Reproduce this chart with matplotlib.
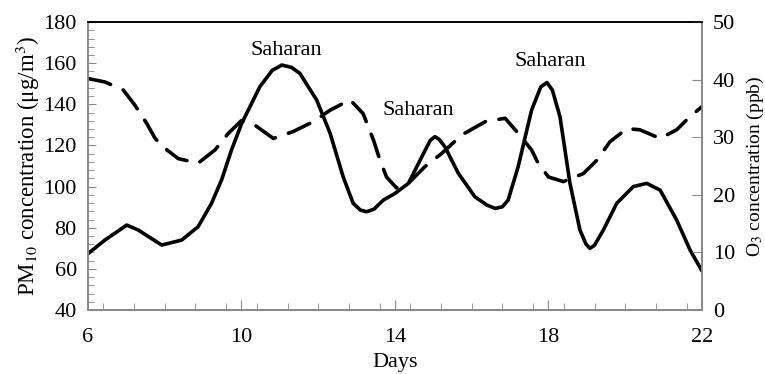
import matplotlib
matplotlib.use('Agg')
import matplotlib.pyplot as plt
from matplotlib.ticker import MultipleLocator

plt.rcParams['font.family'] = ['Liberation Serif', 'DejaVu Serif']
plt.rcParams['mathtext.fontset'] = 'stix'
plt.rcParams['font.size'] = 16

# PM10 (left axis)
pm_days = [6.0, 6.44, 7.01, 7.31, 7.92, 8.44, 8.87, 9.22, 9.48, 9.74, 10.0,
           10.48, 10.8, 11.05, 11.3, 11.52, 11.96, 12.31, 12.65, 12.91, 13.1,
           13.26, 13.45, 13.7, 14.0, 14.35, 14.7, 14.92, 15.04, 15.15, 15.3,
           15.65, 16.08, 16.4, 16.61, 16.8, 16.95, 17.21, 17.56, 17.8, 17.96,
           18.1, 18.3, 18.56, 18.82, 18.98, 19.08, 19.2, 19.43, 19.78, 20.21,
           20.56, 20.91, 21.34, 21.69, 22.0]
pm_vals = [67.4, 74.0, 81.3, 78.9, 71.6, 74.0, 80.5, 91.9, 103.2, 117.8, 130.5,
           148.6, 156.5, 159.1, 158.0, 155.1, 142.1, 125.9, 104.8, 91.9, 88.6,
           87.8, 89.0, 93.5, 96.7, 101.6, 114.5, 122.5, 124.3, 123.0, 119.4,
           106.5, 95.1, 91.0, 89.4, 90.2, 93.5, 109.7, 137.2, 148.5, 150.6,
           147.0, 134.0, 101.6, 78.9, 72.0, 70.0, 71.5, 78.9, 91.9, 100.0,
           101.6, 98.3, 83.8, 69.2, 59.0]

# O3 (right axis)
o3_days = [6.0, 6.44, 6.92, 7.22, 7.53, 7.75, 8.0, 8.35, 8.87, 9.31, 9.66,
           10.0, 10.35, 10.83, 11.35, 11.87, 12.31, 12.83, 13.17, 13.44, 13.61,
           13.78, 14.04, 14.35, 14.78, 15.22, 15.74, 16.35, 16.87, 17.21,
           17.56, 17.73, 18.0, 18.39, 18.91, 19.26, 19.6, 20.04, 20.38, 20.91,
           21.34, 21.69, 22.0]
o3_vals = [40.2, 39.6, 38.2, 35.6, 32.4, 29.8, 28.1, 26.3, 25.5, 27.8, 30.7,
           32.9, 32.1, 29.8, 31.0, 32.7, 34.7, 36.5, 34.1, 29.5, 26.0,
           23.1, 21.2, 22.0, 24.9, 27.2, 30.4, 32.7, 33.3, 30.7,
           27.8, 25.5, 23.1, 22.3, 23.7, 26.0, 29.2, 31.5, 31.3, 29.8,
           31.3, 33.6, 35.3]

# event labels (day, PM10 level)
event_days = [11.18, 14.6, 18.04]
event_pm = [166.4, 137.2, 160.7]

fig = plt.figure(figsize=(7.65, 3.74), dpi=100)
ax = fig.add_axes([0.115, 0.171, 0.8026, 0.770])
ax2 = ax.twinx()

ax.plot(pm_days, pm_vals, color='black', lw=2.6, solid_joinstyle='round',
        solid_capstyle='round')
ax2.plot(o3_days, o3_vals, color='black', lw=2.6, dashes=(6.5, 3.8),
         dash_capstyle='round', dash_joinstyle='round')

for d, v in zip(event_days, event_pm):
    ax.text(d, v, 'Saharan', ha='center', va='center', fontsize=16)

ax.set_xlim(6, 22)
ax.set_ylim(40, 180)
ax2.set_ylim(0, 50)

ax.set_xticks([6, 10, 14, 18, 22])
ax.xaxis.set_minor_locator(MultipleLocator(0.8))
ax.yaxis.set_major_locator(MultipleLocator(20))
ax.yaxis.set_minor_locator(MultipleLocator(4))
ax2.yaxis.set_major_locator(MultipleLocator(10))

ax.tick_params(axis='x', which='major', direction='in', length=7, color='#888888', pad=13)
ax.tick_params(axis='x', which='minor', direction='in', length=5, color='#888888')
ax.tick_params(axis='y', which='major', direction='in', length=6, color='#888888', pad=8)
ax.tick_params(axis='y', which='minor', direction='in', length=4, color='#888888')
ax2.tick_params(axis='y', which='major', direction='in', length=7, color='#888888', pad=8)

for a in (ax, ax2):
    for s in ('left', 'right', 'bottom'):
        a.spines[s].set_color('#888888')
        a.spines[s].set_linewidth(1.2)
    a.spines['top'].set_color('black')
    a.spines['top'].set_linewidth(1.2)

ax.set_xlabel('Days', labelpad=4)
ax.set_ylabel(r'PM$_{10}$ concentration (μg/m$^{3}$)', labelpad=1, fontsize=16.5)
ax2.set_ylabel(r'O$_3$ concentration (ppb)', labelpad=7, fontsize=14)

fig.savefig('out.png', dpi=100)
